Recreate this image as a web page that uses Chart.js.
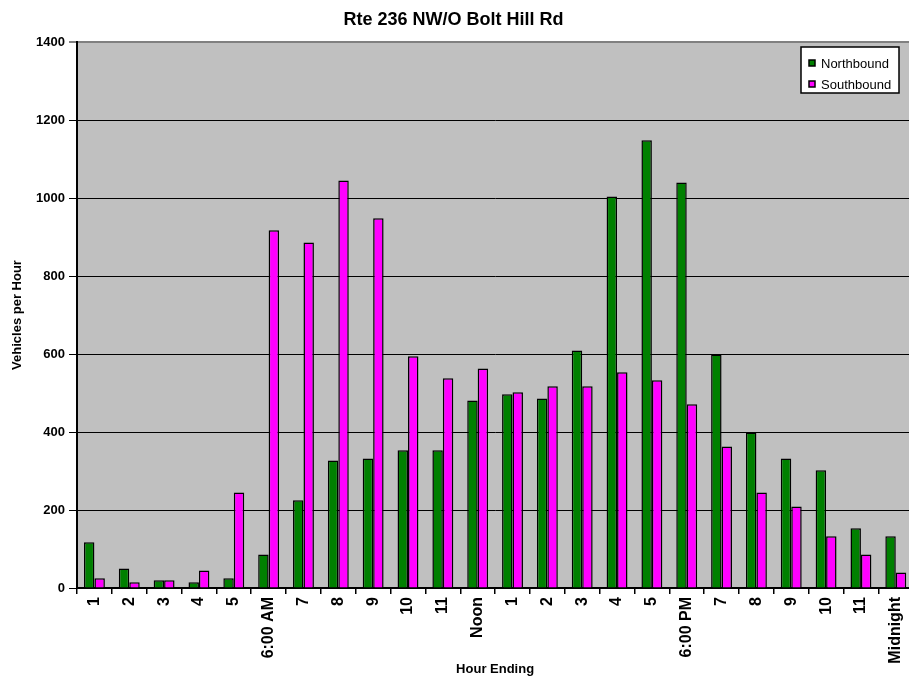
<!DOCTYPE html>
<html lang="en">
  <head>
    <meta charset="UTF-8" />
    <title>Rte 236 NW/O Bolt Hill Rd</title>
    <style>
      html, body { margin: 0; overflow: hidden; background: #fff; }
      /* the original picture is cut off at the right edge, so the canvas is a bit wider than the window */
      #caja { width: 918px; height: 677px; }
    </style>
  </head>
  <body>
    <div id="caja">
      <canvas id="lienzo"></canvas>
    </div>

    <script src="https://cdn.jsdelivr.net/npm/chart.js"></script>

    <script>
      // hour ending labels
      const horas = ["1", "2", "3", "4", "5", "6:00 AM", "7", "8", "9", "10", "11", "Noon",
        "1", "2", "3", "4", "5", "6:00 PM", "7", "8", "9", "10", "11", "Midnight"];
      const norte = [117, 50, 20, 15, 25, 86, 225, 327, 332, 353, 353, 481,
        497, 486, 609, 1004, 1148, 1040, 599, 399, 332, 302, 153, 133];
      const sur = [25, 15, 20, 45, 245, 917, 886, 1045, 948, 594, 538, 563,
        502, 517, 517, 553, 533, 471, 363, 245, 209, 133, 86, 40];

      const fuente = "'Liberation Sans', Arial, sans-serif";

      // gray plot background
      const fondo = {
        id: "fondo",
        beforeDraw(chart) {
          const { ctx, chartArea: a } = chart;
          ctx.save();
          ctx.fillStyle = "#C0C0C0";
          ctx.fillRect(a.left, a.top, a.right - a.left, a.bottom - a.top);
          ctx.restore();
        },
      };

      // legend box inside the plot, top right
      const leyenda = {
        id: "leyenda",
        afterDraw(chart) {
          const { ctx } = chart;
          const x = 801, y = 47, w = 98, h = 46;
          ctx.save();
          ctx.fillStyle = "#fff";
          ctx.fillRect(x, y, w, h);
          ctx.strokeStyle = "#000";
          ctx.lineWidth = 1.5;
          ctx.strokeRect(x, y, w, h);
          ctx.font = "13px " + fuente;
          ctx.textBaseline = "middle";
          chart.data.datasets.forEach((ds, i) => {
            const cy = y + 16.5 + i * 21;
            ctx.fillStyle = ds.backgroundColor;
            ctx.fillRect(x + 8, cy - 3.5, 6, 6);
            ctx.strokeStyle = "#000";
            ctx.lineWidth = 1.5;
            ctx.strokeRect(x + 8, cy - 3.5, 6, 6);
            ctx.fillStyle = "#000";
            ctx.fillText(ds.label, x + 20, cy + 1);
          });
          ctx.restore();
        },
      };

      const lienzo = document.querySelector("#lienzo");
      const grafico = new Chart(lienzo, {
        type: "bar",
        data: {
          labels: horas,
          datasets: [
            {
              label: "Northbound",
              data: norte,
              backgroundColor: "#008000",
              borderColor: "#000",
              borderWidth: 1.5,
              categoryPercentage: 0.6,
              barPercentage: 1.0,
            },
            {
              label: "Southbound",
              data: sur,
              backgroundColor: "#FF00FF",
              borderColor: "#000",
              borderWidth: 1.5,
              categoryPercentage: 0.6,
              barPercentage: 1.0,
            },
          ],
        },
        options: {
          responsive: true,
          maintainAspectRatio: false,
          animation: false,
          layout: { padding: { left: -10, right: 1, top: 0, bottom: 0 } },
          plugins: {
            legend: { display: false },
            tooltip: { enabled: false },
            title: {
              display: true,
              text: "Rte 236 NW/O Bolt Hill Rd",
              color: "#000",
              font: { family: fuente, size: 18, weight: "bold" },
              padding: { top: 9, bottom: 11.4 },
            },
          },
          scales: {
            x: {
              afterFit: (s) => { s.height = 89; },
              grid: {
                offset: true,
                drawOnChartArea: false,
                drawTicks: true,
                tickLength: 6,
                color: "#000",
                lineWidth: 1.5,
              },
              border: { color: "#000", width: 2 },
              ticks: {
                color: "#000",
                minRotation: 90,
                maxRotation: 90,
                autoSkip: false,
                padding: 3,
                font: { family: fuente, size: 16, weight: "bold" },
              },
              title: {
                display: true,
                text: "Hour Ending",
                color: "#000",
                font: { family: fuente, size: 13, weight: "bold" },
                padding: { top: 0, bottom: 0 },
              },
            },
            y: {
              min: 0,
              max: 1400,
              afterFit: (s) => { s.width = 87; },
              grid: {
                color: (c) => (c.tick && c.tick.value === 1400 ? "#808080" : "#000"),
                lineWidth: (c) => (c.tick && c.tick.value === 1400 ? 2 : 1),
                tickLength: 8,
              },
              border: { color: "#000", width: 2 },
              ticks: {
                stepSize: 200,
                color: "#000",
                padding: 4,
                callback: (v) => String(v),
                font: { family: fuente, size: 13, weight: "bold" },
              },
              title: {
                display: true,
                text: "Vehicles per Hour",
                color: "#000",
                font: { family: fuente, size: 13, weight: "bold" },
                padding: { top: 20, bottom: 4 },
              },
            },
          },
        },
        plugins: [fondo, leyenda],
      });
    </script>
  </body>
</html>
